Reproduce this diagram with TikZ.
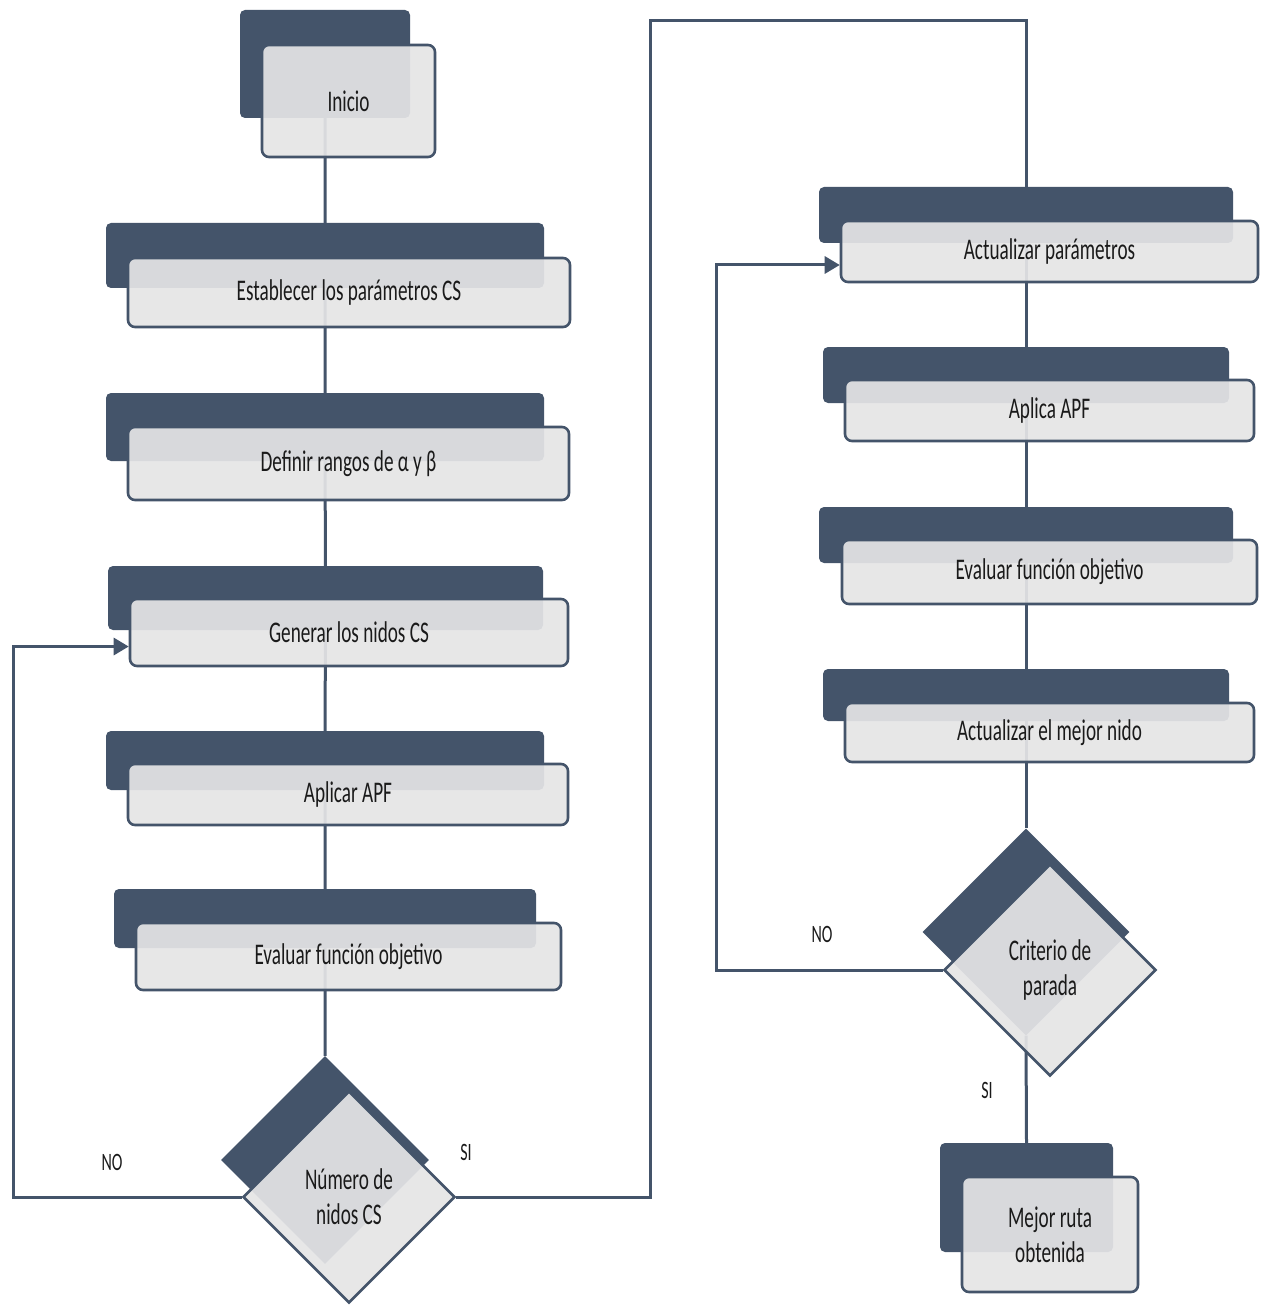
\documentclass[tikz,border=0pt]{standalone}
\usepackage{fontspec}
\setmainfont{Carlito}[FakeStretch=0.64]
\usetikzlibrary{shapes.geometric,arrows.meta,backgrounds,calc}
\definecolor{slate}{HTML}{44546A}
\definecolor{paper}{HTML}{E5E5E6}
\definecolor{ink}{HTML}{1A1A1A}

\tikzset{
  back/.style={fill=slate, draw=none, rounded corners=5pt, inner sep=0pt},
  front/.style={fill=paper, fill opacity=0.92, text opacity=1, draw=slate,
    line width=2.6pt, rounded corners=7pt, inner sep=0pt, text=ink,
    font=\fontsize{30}{35}\selectfont, align=center},
  backdia/.style={diamond, aspect=1, fill=slate, draw=none, inner sep=0pt},
  frontdia/.style={diamond, aspect=1, fill=paper, fill opacity=0.92,
    text opacity=1, draw=slate, line width=2.6pt, inner sep=0pt, text=ink,
    font=\fontsize{30}{35}\selectfont, align=center},
  link/.style={draw=slate, line width=3pt},
  arrowlink/.style={link, -{Triangle[length=15pt,width=17pt]}},
  tag/.style={text=ink, font=\fontsize{25}{30}\selectfont, inner sep=0pt},
}

\begin{document}
\begin{tikzpicture}[x=1pt, y=-1pt]
\useasboundingbox (0,0) rectangle (1264,1305);

% ---------- left column ----------
\node[back, minimum width=170pt, minimum height=108pt] (iniS) at (325,64) {};
\node[front, minimum width=173pt, minimum height=112pt] (iniF) at (348.5,101) {Inicio};

\node[back, minimum width=438pt, minimum height=65pt] (estS) at (325,255.5) {};
\node[front, minimum width=442pt, minimum height=69pt] (estF) at (349,292.5) {Establecer los parámetros CS};

\node[back, minimum width=438pt, minimum height=68pt] (defS) at (325,427) {};
\node[front, minimum width=441pt, minimum height=73pt] (defF) at (348.5,463.5) {Definir rangos de α y β};

\node[back, minimum width=435pt, minimum height=64pt] (genS) at (325.5,598) {};
\node[front, minimum width=438pt, minimum height=67pt] (genF) at (349,632.5) {Generar los nidos CS};

\node[back, minimum width=438pt, minimum height=59pt] (apfS) at (325,760.5) {};
\node[front, minimum width=440pt, minimum height=61pt] (apfF) at (348,794.5) {Aplicar APF};

\node[back, minimum width=422pt, minimum height=59pt] (evlS) at (325,918.5) {};
\node[front, minimum width=425pt, minimum height=67pt] (evlF) at (348.5,956.5) {Evaluar función objetivo};

\node[backdia, minimum width=208pt, minimum height=208pt] (numS) at (325,1160) {};
\node[frontdia, minimum width=212pt, minimum height=212pt] (numF) at (349,1197) {Número de\\nidos CS};

% ---------- right column ----------
\node[back, minimum width=414pt, minimum height=56pt] (actS) at (1026,215) {};
\node[front, minimum width=417pt, minimum height=61pt] (actF) at (1049.5,251.5) {Actualizar parámetros};

\node[back, minimum width=406pt, minimum height=56pt] (apcS) at (1026,375) {};
\node[front, minimum width=409pt, minimum height=61pt] (apcF) at (1049.5,410.5) {Aplica APF};

\node[back, minimum width=414pt, minimum height=56pt] (evrS) at (1026,535) {};
\node[front, minimum width=415pt, minimum height=64pt] (evrF) at (1049.5,572) {Evaluar función objetivo};

\node[back, minimum width=406pt, minimum height=52pt] (mejS) at (1026,695) {};
\node[front, minimum width=409pt, minimum height=59pt] (mejF) at (1049.5,732.5) {Actualizar el mejor nido};

\node[backdia, minimum width=207pt, minimum height=207pt] (crtS) at (1026,932) {};
\node[frontdia, minimum width=212pt, minimum height=212pt] (crtF) at (1050,970) {Criterio de\\parada};

\node[back, minimum width=173pt, minimum height=109pt] (finS) at (1026.5,1197.5) {};
\node[front, minimum width=176pt, minimum height=115pt] (finF) at (1050,1234.5) {Mejor ruta\\obtenida};

% ---------- branch labels ----------
\node[tag] (noL) at (112,1162) {NO};
\node[tag] (siL) at (466,1152) {SI};
\node[tag] (noR) at (822,934) {NO};
\node[tag] (siR) at (987,1090) {SI};

% ---------- helper points for the return and jump paths ----------
\coordinate (genIn) at ($(genF.west)+(0,14)$);
\coordinate (actIn) at ($(actF.west)+(0,13.5)$);
\coordinate (leftRail) at (13,0);
\coordinate (midRail) at (650,21);
\coordinate (rightRail) at (716,0);

% ---------- connectors (behind the boxes) ----------
\begin{scope}[on background layer]
  \fill[white] (0,0) rectangle (1264,1305);
  \draw[link] (iniS.center) -- (estS.center) -- (defS.center) -- (genS.center)
              -- (apfS.center) -- (evlS.center) -- (numS.north);
  \draw[link] (actS.north) -- (apcS.center) -- (evrS.center) -- (mejS.center)
              -- (crtS.north);
  \draw[link] (crtS.south) -- (finS.north);
  \draw[link] (numF.east) -| (midRail) -- (midRail -| actS.north) -- (actS.north);
\end{scope}
\draw[arrowlink] (numF.west) -| (leftRail |- genIn) -- (genIn);
\draw[arrowlink] (crtF.west) -| (rightRail |- actIn) -- (actIn);
\end{tikzpicture}
\end{document}
